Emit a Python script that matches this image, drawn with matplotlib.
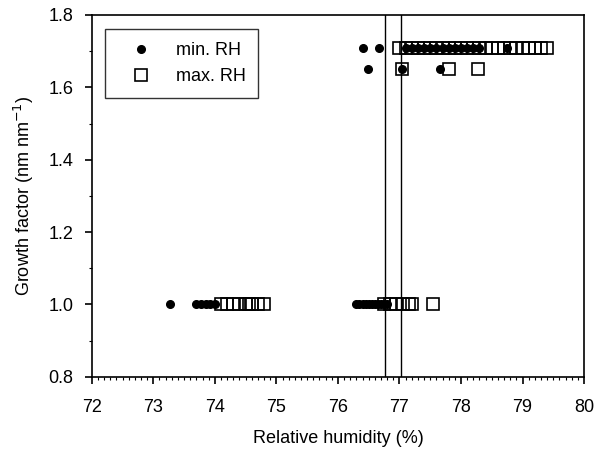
import matplotlib
matplotlib.use("Agg")
import matplotlib.pyplot as plt
from matplotlib.ticker import MultipleLocator

plt.rcParams['font.family'] = ['Liberation Sans', 'DejaVu Sans']

# min. RH series (filled circles)
min_rh_x = [73.27, 73.70, 73.78, 73.85, 73.92, 74.00,
            76.30, 76.35, 76.40, 76.45, 76.50, 76.55, 76.60, 76.65, 76.70, 76.75, 76.80,
            76.41, 76.67,
            77.10, 77.20, 77.30, 77.40, 77.50, 77.60, 77.70, 77.80, 77.90, 78.00, 78.10, 78.20, 78.30,
            78.75,
            76.49, 77.04, 77.66]
min_rh_y = [1.00, 1.00, 1.00, 1.00, 1.00, 1.00,
            1.00, 1.00, 1.00, 1.00, 1.00, 1.00, 1.00, 1.00, 1.00, 1.00, 1.00,
            1.71, 1.71,
            1.71, 1.71, 1.71, 1.71, 1.71, 1.71, 1.71, 1.71, 1.71, 1.71, 1.71, 1.71, 1.71,
            1.71,
            1.65, 1.65, 1.65]

# max. RH series (open squares)
max_rh_x = [74.10, 74.20, 74.30, 74.40, 74.50, 74.55, 74.60, 74.70, 74.80,
            76.75, 76.85, 76.95, 77.05, 77.15, 77.20, 77.55,
            77.00, 77.10, 77.20, 77.30, 77.40, 77.50, 77.60, 77.70, 77.80, 77.90, 78.00,
            78.10, 78.20, 78.30, 78.40, 78.50, 78.60, 78.70, 78.80, 78.90, 79.00, 79.10,
            79.20, 79.30, 79.40,
            77.04, 77.80, 78.28]
max_rh_y = [1.00] * 16 + [1.71] * 25 + [1.65, 1.65, 1.65]

vlines_x = [76.77, 77.03]

fig = plt.figure(figsize=(5.96, 4.54), dpi=100)
ax = fig.add_axes([0.154, 0.170, 0.826, 0.797])

ax.plot(min_rh_x, min_rh_y, 'o', color='black', markersize=5.5, linestyle='none', label='min. RH')
ax.plot(max_rh_x, max_rh_y, 's', markerfacecolor='none', markeredgecolor='black',
        markersize=9, markeredgewidth=1.2, linestyle='none', label='max. RH')
for vx in vlines_x:
    ax.axvline(vx, color='black', linewidth=1.0)

ax.set_xlim(72, 80)
ax.set_ylim(0.8, 1.8)
ax.xaxis.set_major_locator(MultipleLocator(1))
ax.xaxis.set_minor_locator(MultipleLocator(0.1))
ax.yaxis.set_major_locator(MultipleLocator(0.2))
ax.yaxis.set_minor_locator(MultipleLocator(0.1))
ax.yaxis.set_major_formatter(matplotlib.ticker.FormatStrFormatter('%.1f'))
ax.tick_params(which='major', direction='out', length=5, width=1.2, labelsize=13)
ax.tick_params(axis='x', which='major', pad=11)
ax.tick_params(axis='y', which='major', pad=8)
ax.tick_params(which='minor', direction='out', length=2.5, width=0.8)
for s in ax.spines.values():
    s.set_linewidth(1.2)

ax.set_xlabel('Relative humidity (%)', fontsize=13, labelpad=10)
ax.set_ylabel('Growth factor (nm nm$^{-1}$)', fontsize=13, labelpad=9)

leg = ax.legend(loc='upper left', bbox_to_anchor=(0.02, 0.97), fontsize=13,
                frameon=True, fancybox=False, edgecolor='black', handletextpad=0.6,
                handlelength=2.6, borderpad=0.7, labelspacing=0.5, borderaxespad=0.2)
leg.get_frame().set_linewidth(1.0)

fig.savefig('out.png', dpi=100)
